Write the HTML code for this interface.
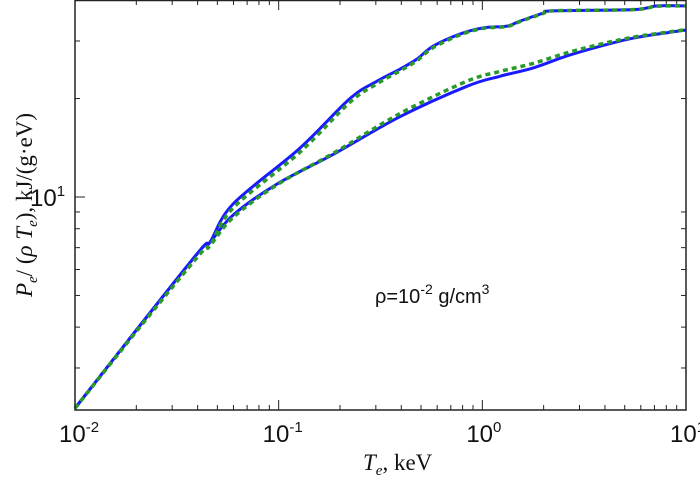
<!DOCTYPE html>
<html><head><meta charset="utf-8"><style>
body{margin:0;background:#fff}
svg{display:block}
.tk{font-family:"Liberation Sans",sans-serif;font-size:24px;fill:#111}
.sup{font-size:15px}
</style></head><body>
<svg id="chart" width="700" height="477">
<g id="grid"></g>
<g id="curves"></g>
<rect x="75" y="0.5" width="611" height="409.5" fill="none" stroke="#222" stroke-width="1.5"/>
<text x="375" y="303" font-family="Liberation Sans,sans-serif" font-size="20" fill="#111">ρ=10<tspan dy="-9" font-size="14">-2</tspan><tspan dy="9"> g/cm</tspan><tspan dy="-9" font-size="14">3</tspan></text>
<text x="363" y="470" font-family="Liberation Serif,serif" font-size="23" fill="#111"><tspan font-style="italic">T</tspan><tspan font-style="italic" font-size="15" dy="5">e</tspan><tspan dy="-5">, keV</tspan></text>
<text transform="translate(32,205) rotate(-90)" text-anchor="middle" font-family="Liberation Serif,serif" font-size="23" fill="#111"><tspan font-style="italic">P</tspan><tspan font-style="italic" font-size="15" dy="5">e</tspan><tspan dy="-5">/ (</tspan><tspan font-style="italic">ρ T</tspan><tspan font-style="italic" font-size="15" dy="5">e</tspan><tspan dy="-5">), kJ/(g·eV)</tspan></text>
</svg>
<script>
const xTicks=[0.01,0.1,1,10];
const xTickLabels=["-2","-1","0","1"];
const yTicks=[10];
const yTickLabels=["1"];
const T_upper=[0.01,0.0208,0.0411,0.046,0.0597,0.127,0.224,0.304,0.394,0.477,0.572,0.776,1.01,1.32,1.53,1.99,2.22,5.48,7.19,10];
const P_upper=[2.26,4.04,6.87,7.27,9.52,14.1,20.0,22.6,24.6,26.4,28.9,31.5,32.9,33.3,34.5,36.5,37.1,37.4,38.4,38.4];
const P_upperFit=[2.26,4.0,6.7,7.1,9.25,13.7,19.5,22.2,24.3,26.1,28.6,31.3,32.8,33.2,34.4,36.4,37.1,37.4,38.3,38.4];
const T_lower=[0.01,0.0208,0.0411,0.046,0.0597,0.0982,0.185,0.394,0.84,1.22,1.77,2.6,3.78,5.48,8.06,10];
const P_lower=[2.26,4.04,6.87,7.27,8.8,10.96,13.5,17.6,21.8,23.4,24.8,27.0,28.9,30.6,31.8,32.4];
const P_lowerFit=[2.26,4.0,6.7,7.1,8.65,10.9,13.6,18.0,22.6,24.2,25.6,27.6,29.3,30.8,31.9,32.5];
const X0=75,X1=686,LX0=-2,LX1=1;
const sx=v=>X0+(Math.log10(v)-LX0)/(LX1-LX0)*(X1-X0);
const sy=v=>197-327*(Math.log10(v)-1);
const NS="http://www.w3.org/2000/svg";
const grid=document.getElementById('grid'),cv=document.getElementById('curves');
function mk(t,a,p){const e=document.createElementNS(NS,t);for(const k in a)e.setAttribute(k,a[k]);p.appendChild(e);return e;}
// x ticks
for(let d=LX0;d<LX1;d++){for(let m=2;m<10;m++){const x=sx(m*Math.pow(10,d));
const t=mk('line',{x1:x,x2:x,y1:410,y2:405,stroke:'#222'},grid);


const t2=mk('line',{x1:x,x2:x,y1:0,y2:5,stroke:'#222'},grid);

}}
xTicks.forEach((v,i)=>{const x=sx(v);
const t=mk('line',{x1:x,x2:x,y1:410,y2:400,stroke:'#222'},grid);


const t2=mk('line',{x1:x,x2:x,y1:0,y2:10,stroke:'#222'},grid);


const lb=mk('text',{x:x-16,y:442,class:'tk'},grid);


lb.innerHTML='10<tspan class="sup" dy="-10">'+xTickLabels[i]+'</tspan>';});
// y ticks
[3,4,5,6,7,8,9,20,30].forEach(v=>{const y=sy(v);
const t=mk('line',{x1:75,x2:80,y1:y,y2:y,stroke:'#222'},grid);


const t2=mk('line',{x1:681,x2:686,y1:y,y2:y,stroke:'#222'},grid);

});
yTicks.forEach((v,i)=>{const y=sy(v);
const t=mk('line',{x1:75,x2:85,y1:y,y2:y,stroke:'#222'},grid);


const lb=mk('text',{x:30,y:y+9,class:'tk'},grid);


lb.innerHTML='10<tspan class="sup" dy="-10">'+yTickLabels[i]+'</tspan>';});
function path(T,P){const p=T.map((t,i)=>[sx(t),sy(P[i])]);let d='M'+p[0][0]+','+p[0][1];
for(let i=0;i<p.length-1;i++){const a=p[Math.max(i-1,0)],b=p[i],c=p[i+1],e=p[Math.min(i+2,p.length-1)];
const c1=[b[0]+(c[0]-a[0])/6,b[1]+(c[1]-a[1])/6],c2=[c[0]-(e[0]-b[0])/6,c[1]-(e[1]-b[1])/6];
d+=' C'+c1+' '+c2+' '+c;}return d;}
const s1=mk('path',{d:path(T_upper,P_upper),fill:'none',stroke:'#1a1aff','stroke-width':3},cv);


const s2=mk('path',{d:path(T_lower,P_lower),fill:'none',stroke:'#1a1aff','stroke-width':3},cv);


const s3=mk('path',{d:path(T_upper,P_upperFit),fill:'none',stroke:'#2a9a2a','stroke-width':3.5,'stroke-dasharray':'5,4'},cv);


const s4=mk('path',{d:path(T_lower,P_lowerFit),fill:'none',stroke:'#2a9a2a','stroke-width':3.5,'stroke-dasharray':'5,4'},cv);


</script>
</body></html>
